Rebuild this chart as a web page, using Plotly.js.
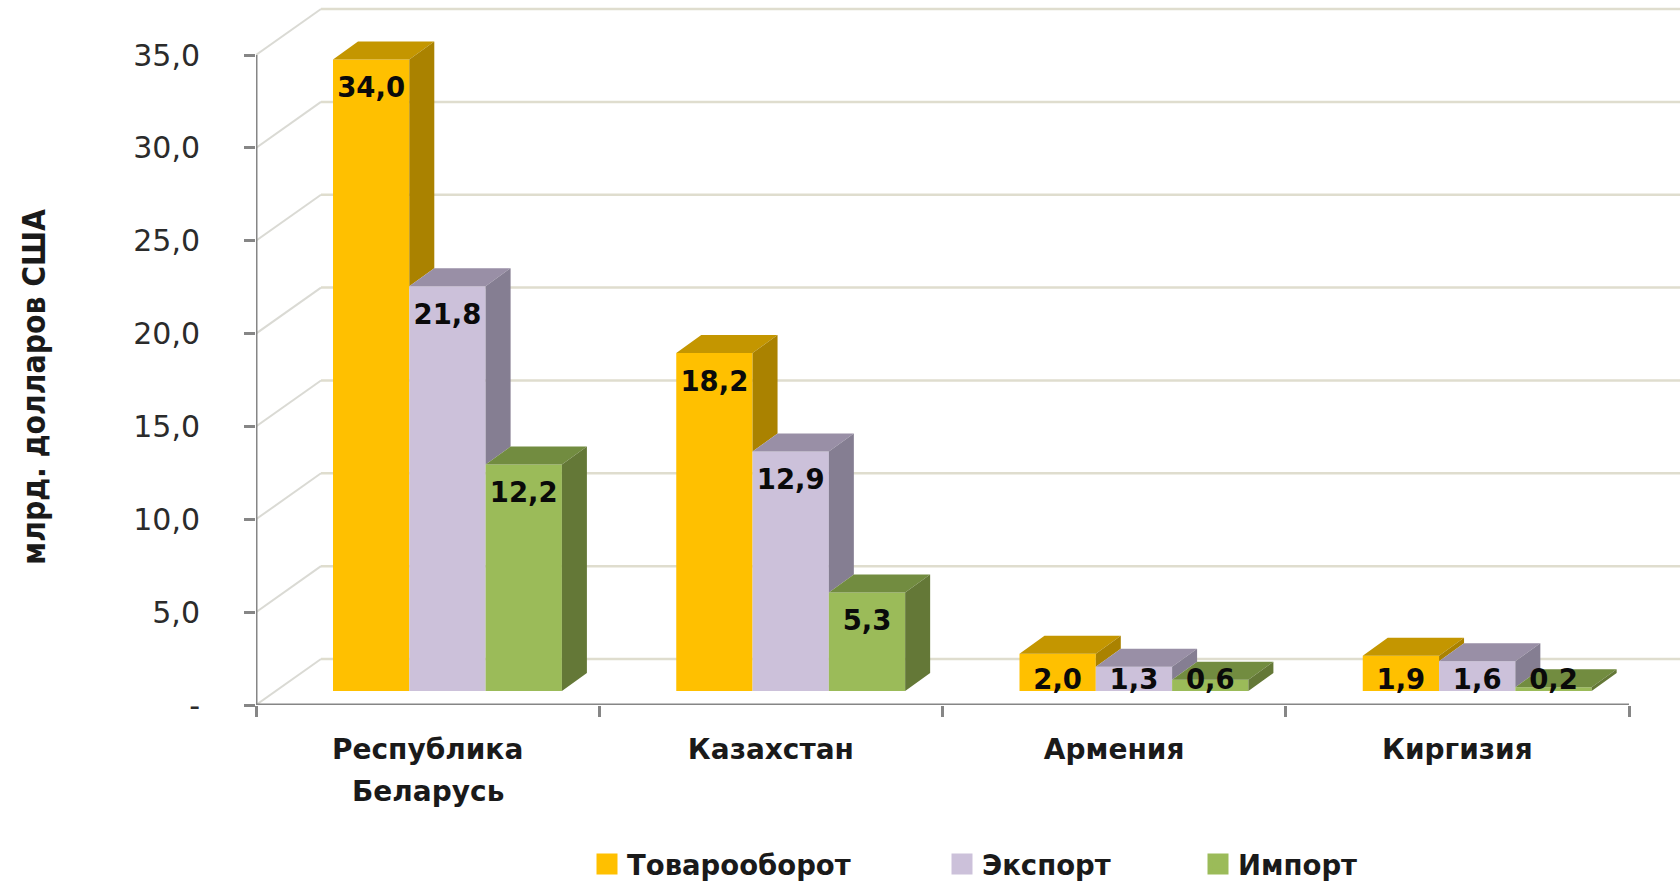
<!DOCTYPE html>
<html><head><meta charset="utf-8">
<script src="https://cdn.plot.ly/plotly-3.0.1.min.js"></script>
<style>html,body{margin:0;padding:0;background:#fff}#chart{width:1680px;height:884px}</style>
</head><body><div id="chart"></div>
<script>
// ---- data ----
const catLine1 = ['Республика', 'Казахстан', 'Армения', 'Киргизия'];
const catLine2 = ['Беларусь', '', '', ''];
const seriesNames = ['Товарооборот', 'Экспорт', 'Импорт'];
const turnover = [34.0, 18.2, 2.0, 1.9];
const exportsV = [21.8, 12.9, 1.3, 1.6];
const importsV = [12.2, 5.3, 0.6, 0.2];
const yTicks = [0, 5, 10, 15, 20, 25, 30, 35];
const yTickText = ['-', '5,0', '10,0', '15,0', '20,0', '25,0', '30,0', '35,0'];
const yTitle = 'млрд. долларов США';
const frontColors = ['#FFC000', '#CCC1DA', '#9BBB59'];
const topColors = ['#C49600', '#998FA6', '#728C40'];
const sideColors = ['#AA8200', '#857E92', '#647837'];

// ---- geometry of the fake 3D box, in axis units ----
const pxX = 343.25, pxY = 18.57;
const wallDX = 65 / pxX, wallDY = 46 / pxY;
const barW = 76.3 / pxX, barStart = 77 / pxX, baseY = 14 / pxY;
const barDX = 25 / pxX, barDY = 18 / pxY;
const xEnd = (1680 - 256) / pxX, yEnd = 705 / pxY;
const axisColor = '#868686', wallColor = '#DFDDCE', sideGrid = '#DADAD4';
const FONT = '"DejaVu Sans",sans-serif';
const FONTC = '"DejaVu Sans Condensed","DejaVu Sans",sans-serif';

const all = [turnover, exportsV, importsV];
const traces = [];
const left = (c, s) => c + barStart + s * barW;

all.forEach((vals, s) => {
  const xs = vals.map((_, c) => left(c, s) + barW / 2);
  traces.push({type: 'bar', x: xs, y: vals, base: baseY, width: barW,
    marker: {color: frontColors[s], line: {width: 0}}, showlegend: false,
    name: seriesNames[s], hoverinfo: 'y+name'});
});
all.forEach((vals, s) => {
  const tx = [], ty = [], sx = [], sy = [];
  vals.forEach((v, c) => {
    const l = left(c, s), r = l + barW, t = v + baseY;
    tx.push(l, r, r + barDX, l + barDX, l, null);
    ty.push(t, t, t + barDY, t + barDY, t, null);
    const b = s < 2 ? Math.min(all[s + 1][c] + baseY, t) : baseY;
    sx.push(r, r + barDX, r + barDX, r, r, null);
    sy.push(t, t + barDY, b + barDY, b, t, null);
  });
  traces.push({type: 'scatter', mode: 'lines', x: tx, y: ty, fill: 'toself', fillcolor: topColors[s],
    line: {width: 0}, showlegend: false, hoverinfo: 'skip'});
  traces.push({type: 'scatter', mode: 'lines', x: sx, y: sy, fill: 'toself', fillcolor: sideColors[s],
    line: {width: 0}, showlegend: false, hoverinfo: 'skip'});
});
all.forEach((vals, s) => {
  traces.push({type: 'scatter', mode: 'text',
    x: vals.map((_, c) => left(c, s) + barW / 2),
    y: vals.map(v => Math.max(v + baseY - 31 / pxY, 23 / pxY)),
    text: vals.map(v => v.toFixed(1).replace('.', ',')),
    textposition: 'middle center',
    textfont: {family: FONT, size: 27.5, color: '#0a0a0a', weight: 'bold'},
    showlegend: false, hoverinfo: 'skip', cliponaxis: false});
});
seriesNames.forEach((n, s) => {
  traces.push({type: 'scatter', mode: 'markers', x: [null], y: [null], name: n,
    marker: {symbol: 'square', size: 16, color: frontColors[s], line: {width: 5, color: frontColors[s]}},
    showlegend: true, legend: s === 0 ? 'legend' : 'legend' + (s + 1)});
});

const shapes = [];
yTicks.forEach(v => {
  shapes.push({type: 'line', layer: 'below', xref: 'x', yref: 'y', x0: wallDX, x1: xEnd, y0: v + wallDY, y1: v + wallDY,
    line: {color: wallColor, width: 2.5}});
  shapes.push({type: 'line', layer: 'below', xref: 'x', yref: 'y', x0: 0, x1: wallDX, y0: v, y1: v + wallDY,
    line: {color: sideGrid, width: 2}});
});
shapes.push({type: 'line', xref: 'x', yref: 'y', x0: 0, x1: 0, y0: 0, y1: yTicks[yTicks.length - 1], line: {color: axisColor, width: 3}});
shapes.push({type: 'line', xref: 'x', yref: 'y', x0: 0, x1: catLine1.length, y0: 0, y1: 0, line: {color: axisColor, width: 3}});

const legendBase = {orientation: 'v', xanchor: 'left', yanchor: 'middle', y: (884 - 864) / 884, yref: 'container',
  bgcolor: 'rgba(0,0,0,0)', font: {family: FONT, size: 27.5, color: '#1a1a1a', weight: 'bold'}, borderwidth: 0};
const legX = px => (px - 256) / 1424;
const catAnn = catLine2.map((t, c) => t ? ({xref: 'x', yref: 'paper', x: c + 0.5, y: (705 - 791) / 705,
    yanchor: 'middle', xanchor: 'center', showarrow: false, text: t,
    font: {family: FONT, size: 28, color: '#1a1a1a', weight: 'bold'}}) : null).filter(Boolean);
const titleAnn = {xref: 'paper', yref: 'paper', x: (34 - 256) / 1424, y: (705 - 387) / 705, xanchor: 'center', yanchor: 'middle',
  textangle: -90, showarrow: false, text: yTitle, font: {family: FONTC, size: 31.5, color: '#1a1a1a', weight: 'bold'}};
const layout = {
  width: 1680, height: 884, paper_bgcolor: '#fff', plot_bgcolor: '#fff',
  margin: {l: 256, r: 0, t: 0, b: 179, pad: 0},
  barmode: 'overlay', hovermode: false, font: {family: FONT},
  xaxis: {range: [0, xEnd], showgrid: false, zeroline: false, showline: false,
    tickmode: 'array', tickvals: catLine1.map((_, c) => c + 0.5), ticktext: catLine1, ticks: '',
    ticklabelstandoff: 25,
    tickfont: {family: FONT, size: 28, color: '#1a1a1a', weight: 'bold'},
    minor: {tickmode: 'array', tickvals: [0, 1, 2, 3, 4], ticks: 'outside', ticklen: 11, tickwidth: 3, tickcolor: axisColor, showgrid: false}},
  yaxis: {range: [0, yEnd], showgrid: false, zeroline: false, showline: false,
    tickmode: 'array', tickvals: yTicks, ticktext: yTickText, ticks: 'outside', ticklen: 11, tickwidth: 3, tickcolor: axisColor,
    ticklabelstandoff: 38,
    tickfont: {family: FONT, size: 30, color: '#2b2b2b'}},
  shapes: shapes,
  annotations: catAnn.concat([titleAnn]),
  legend: Object.assign({}, legendBase, {x: legX(587)}),
  legend2: Object.assign({}, legendBase, {x: legX(942)}),
  legend3: Object.assign({}, legendBase, {x: legX(1198)})
};
Plotly.newPlot('chart', traces, layout, {displayModeBar: false, staticPlot: true});
</script></body></html>
